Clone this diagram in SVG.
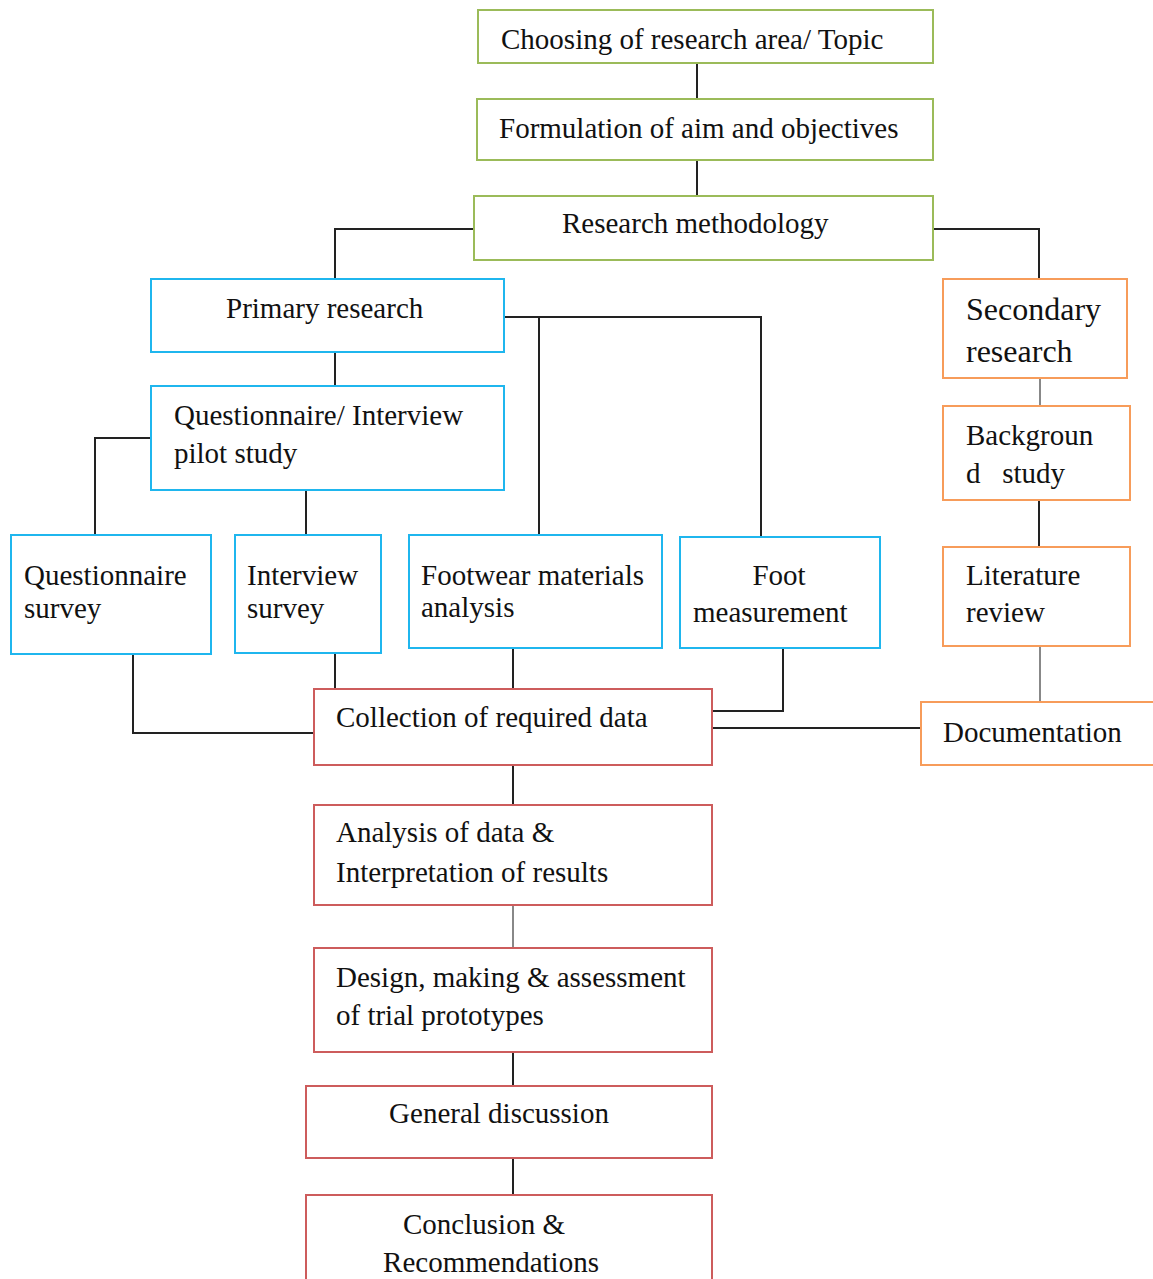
<svg xmlns="http://www.w3.org/2000/svg" width="1153" height="1279" viewBox="0 0 1153 1279">
<style>
rect{fill:#fff;stroke-width:2}
.g{stroke:#9bbb59}
.b{stroke:#1fb6ee}
.o{stroke:#f79c5a}
.r{stroke:#cd5c5c}
text{font-family:"Liberation Serif","Times New Roman",serif;font-size:29px;fill:#111}
.big{font-size:32px}
.c{text-anchor:middle}
#connectors path{fill:none;stroke:#222;stroke-width:2}
#connectors path.gr{stroke:#888}
</style>
<rect x="0" y="0" width="1153" height="1279" style="fill:#fff;stroke:none"/>
<g id="connectors">
<path d="M697 63V99M697 160V196"/>
<path d="M474 229H335V279M933 229H1039V279"/>
<path d="M504 317H761V536M539 317V535"/>
<path d="M335 352V386"/>
<path d="M151 438H95V535"/>
<path d="M306 490V535"/>
<path class="gr" d="M1040 378V406"/>
<path d="M1039 500V547"/>
<path class="gr" d="M1040 646V702"/>
<path d="M133 654V733H314"/>
<path d="M335 653V689"/>
<path d="M513 648V689"/>
<path d="M783 648V711H712"/>
<path d="M712 728H921"/>
<path d="M513 765V805"/>
<path class="gr" d="M513 905V948"/>
<path d="M513 1052V1086"/>
<path d="M513 1158V1195"/>
</g>
<g id="n1"><rect class="g" x="478" y="10" width="455" height="53"/><text x="501" y="49">Choosing of research area/ Topic</text></g>
<g id="n2"><rect class="g" x="477" y="99" width="456" height="61"/><text x="499" y="138">Formulation of aim and objectives</text></g>
<g id="n3"><rect class="g" x="474" y="196" width="459" height="64"/><text x="562" y="233">Research methodology</text></g>
<g id="n4"><rect class="b" x="151" y="279" width="353" height="73"/><text x="226" y="318">Primary research</text></g>
<g id="n5"><rect class="b" x="151" y="386" width="353" height="104"/><text x="174" y="425">Questionnaire/ Interview</text><text x="174" y="463">pilot study</text></g>
<g id="n6"><rect class="b" x="11" y="535" width="200" height="119"/><text x="24" y="585">Questionnaire</text><text x="24" y="618">survey</text></g>
<g id="n7"><rect class="b" x="235" y="535" width="146" height="118"/><text x="247" y="585">Interview</text><text x="247" y="618">survey</text></g>
<g id="n8"><rect class="b" x="409" y="535" width="253" height="113"/><text x="421" y="585">Footwear materials</text><text x="421" y="617">analysis</text></g>
<g id="n9"><rect class="b" x="680" y="537" width="200" height="111"/><text class="c" x="779" y="585">Foot</text><text x="693" y="622">measurement</text></g>
<g id="n10"><rect class="o" x="943" y="279" width="184" height="99"/><text class="big" x="966" y="320">Secondary</text><text class="big" x="966" y="362">research</text></g>
<g id="n11"><rect class="o" x="943" y="406" width="187" height="94"/><text x="966" y="445">Backgroun</text><text x="966" y="483" xml:space="preserve">d   study</text></g>
<g id="n12"><rect class="o" x="943" y="547" width="187" height="99"/><text x="966" y="585">Literature</text><text x="966" y="622">review</text></g>
<g id="n13"><rect class="o" x="921" y="702" width="240" height="63"/><text x="943" y="742">Documentation</text></g>
<g id="n14"><rect class="r" x="314" y="689" width="398" height="76"/><text x="336" y="727">Collection of required data</text></g>
<g id="n15"><rect class="r" x="314" y="805" width="398" height="100"/><text x="336" y="842">Analysis of data &amp;</text><text x="336" y="882">Interpretation of results</text></g>
<g id="n16"><rect class="r" x="314" y="948" width="398" height="104"/><text x="336" y="987">Design, making &amp; assessment</text><text x="336" y="1025">of trial prototypes</text></g>
<g id="n17"><rect class="r" x="306" y="1086" width="406" height="72"/><text class="c" x="499" y="1123">General discussion</text></g>
<g id="n18"><rect class="r" x="306" y="1195" width="406" height="100"/><text class="c" x="484" y="1234">Conclusion &amp;</text><text class="c" x="491" y="1272">Recommendations</text></g>
</svg>
